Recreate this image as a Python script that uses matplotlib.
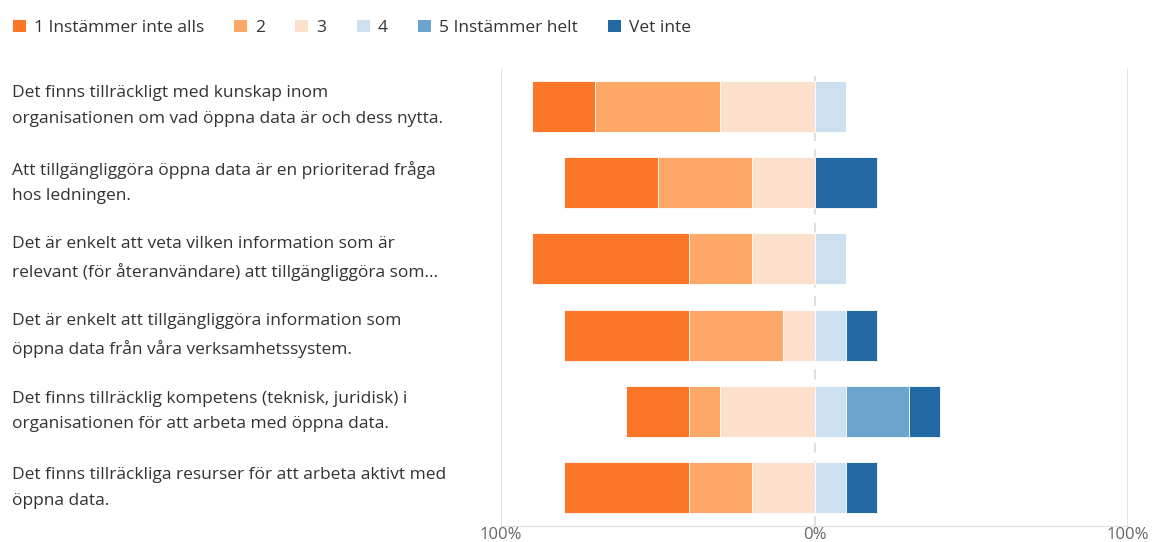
import matplotlib
matplotlib.use("Agg")
import matplotlib.pyplot as plt
from matplotlib.patches import Patch
import numpy as np

plt.rcParams['font.family'] = ['Open Sans', 'DejaVu Sans']

questions = [
    "Det finns tillräckligt med kunskap inom\norganisationen om vad öppna data är och dess nytta.",
    "Att tillgängliggöra öppna data är en prioriterad fråga\nhos ledningen.",
    "Det är enkelt att veta vilken information som är\nrelevant (för återanvändare) att tillgängliggöra som...",
    "Det är enkelt att tillgängliggöra information som\nöppna data från våra verksamhetssystem.",
    "Det finns tillräcklig kompetens (teknisk, juridisk) i\norganisationen för att arbeta med öppna data.",
    "Det finns tillräckliga resurser för att arbeta aktivt med\nöppna data.",
]
categories = ["1 Instämmer inte alls", "2", "3", "4", "5 Instämmer helt", "Vet inte"]
colors = ["#fd7627", "#fda868", "#fde0cb", "#cde0ef", "#6ba4cc", "#2369a6"]

v1 = [20, 30, 50, 40, 20, 40]
v2 = [40, 30, 20, 30, 10, 20]
v3 = [30, 20, 20, 10, 30, 20]
v4 = [10, 0, 10, 10, 10, 10]
v5 = [0, 0, 0, 0, 20, 0]
vet_inte = [0, 20, 0, 10, 10, 10]

tick_vals = [-100, 0, 100]
tick_labels = ["100%", "0%", "100%"]

fig = plt.figure(figsize=(11.52, 5.42), dpi=100)
ax = fig.add_axes([501/1152, 1-526/542, (1128-501)/1152, (526-68)/542])

y = np.arange(len(questions))
a1, a2, a3 = np.array(v1), np.array(v2), np.array(v3)
b4, b5, b6 = np.array(v4), np.array(v5), np.array(vet_inte)
h = 0.67
kw = dict(height=h, edgecolor="white", linewidth=0.6, zorder=3)
ax.barh(y, a3, left=-a3, color=colors[2], **kw)
ax.barh(y, a2, left=-(a3 + a2), color=colors[1], **kw)
ax.barh(y, a1, left=-(a3 + a2 + a1), color=colors[0], **kw)
ax.barh(y, b4, left=0, color=colors[3], **kw)
ax.barh(y, b5, left=b4, color=colors[4], **kw)
ax.barh(y, b6, left=b4 + b5, color=colors[5], **kw)

ax.set_xlim(-100, 100)
ax.set_ylim(len(questions) - 0.5, -0.5)
for s in ["top", "right", "left"]:
    ax.spines[s].set_visible(False)
ax.spines["bottom"].set_color("#e0e0e0")
ax.axvline(-100, color="#e0e0e0", lw=1.2, zorder=1)
ax.axvline(100, color="#e0e0e0", lw=1.2, zorder=1)
ax.axvline(0, color="#d9d9d9", lw=1.2, ls=(0, (6, 5)), zorder=1)
ax.set_xticks(tick_vals)
ax.set_xticklabels(tick_labels, fontsize=12, color="#666666")
ax.tick_params(axis="x", length=0, pad=1)
ax.set_yticks([])

for yi, q in zip(y, questions):
    ax.text(12/1152, ax.transData.transform((0, yi))[1] / 542, q,
            transform=fig.transFigure, ha="left", va="center",
            fontsize=12.5, color="#333333", linespacing=1.78)

handles = [Patch(facecolor=c, edgecolor="none") for c in colors]
fig.legend(handles, categories, loc="upper left", bbox_to_anchor=(-0.004, 0.996),
           ncol=6, frameon=False, fontsize=12.5, handlelength=0.75, handleheight=0.75,
           handletextpad=0.45, columnspacing=1.75, labelcolor="#333333",
           borderaxespad=0.5, borderpad=0.5)

fig.savefig("out.png", dpi=100)
